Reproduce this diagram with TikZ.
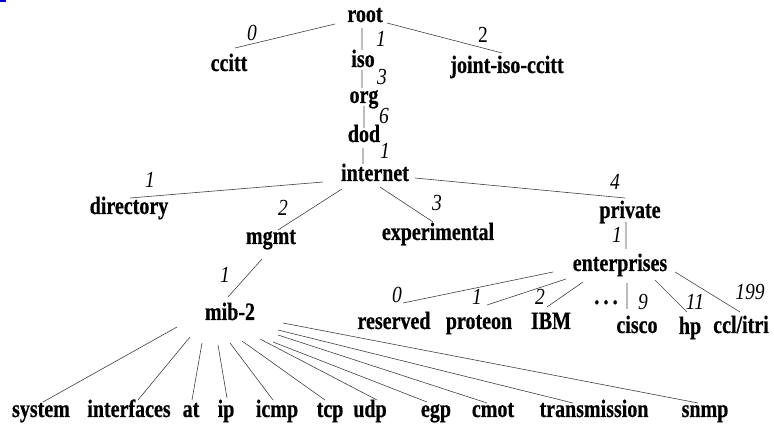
\documentclass[tikz,border=0pt]{standalone}
\usepackage{fontspec}
\setmainfont{Liberation Serif}
\newfontfamily\oidfont{Liberation Serif}[FakeStretch=0.8,BoldFeatures={FakeBold=0.6}]
\newfontfamily\arcfont{Liberation Serif}[FakeStretch=0.85]
\begin{document}
\begin{tikzpicture}[x=1pt,y=-1pt,
  oid/.style={anchor=base,inner sep=0pt,font=\oidfont\fontsize{25}{27}\selectfont\bfseries},
  num/.style={inner sep=0pt,font=\arcfont\fontsize{23}{25}\selectfont\itshape},
  upnum/.style={inner sep=0pt,font=\arcfont\fontsize{23}{25}\selectfont},
  edge/.style={draw=black!75,line width=0.6pt}]
\useasboundingbox (0,0) rectangle (774,435);
\fill[blue!80!black] (0,0) rectangle (6,2.5);

% upper levels
\node[oid] (root) at (365,22) {root};
\node[oid] (ccitt) at (229,71) {ccitt};
\node[oid] (iso) at (363,67) {iso};
\node[oid] (jic) at (507,73) {joint-iso-ccitt};
\node[oid] (org) at (364,103) {org};
\node[oid] (dod) at (364,142) {dod};
\node[oid] (internet) at (375,181) {internet};
\node[oid] (directory) at (129,214) {directory};
\node[oid] (mgmt) at (271,244) {mgmt};
\node[oid] (experimental) at (438,240) {experimental};
\node[oid] (private) at (630,218) {private};
\node[oid] (enterprises) at (620,271) {enterprises};
\node[oid] (mib) at (230,320) {mib-2};

% enterprises children
\node[oid] (reserved) at (394,329) {reserved};
\node[oid] (proteon) at (479,329) {proteon};
\node[oid] (ibm) at (551,329) {IBM};
\node[oid] (dots) at (606,304) {.\,.\,.};
\node[oid] (cisco) at (637,333) {cisco};
\node[oid] (hp) at (690,334) {hp};
\node[oid] (ccl) at (741,333) {ccl/itri};

% mib-2 groups
\node[oid] (system) at (41,417) {system};
\node[oid] (interfaces) at (129,417) {interfaces};
\node[oid] (at) at (191,417) {at};
\node[oid] (ip) at (226,417) {ip};
\node[oid] (icmp) at (277,417) {icmp};
\node[oid] (tcp) at (330,417) {tcp};
\node[oid] (udp) at (370,417) {udp};
\node[oid] (egp) at (436,417) {egp};
\node[oid] (cmot) at (493,417) {cmot};
\node[oid] (transmission) at (594,417) {transmission};
\node[oid] (snmp) at (705,417) {snmp};

% connectors
\path[edge]
  ([shift={(-30,2)}]root.base) -- ([shift={(6,-23)}]ccitt.base)
  ([shift={(-3,6)}]root.base) -- ([shift={(-1,-17)}]iso.base)
  ([shift={(22,1)}]root.base) -- ([shift={(-5,-20)}]jic.base)
  ([shift={(-1,3)}]iso.base) -- ([shift={(-2,-15)}]org.base)
  ([shift={(0,3)}]org.base) -- ([shift={(0,-14)}]dod.base)
  ([shift={(-1,6)}]dod.base) -- ([shift={(-12,-17)}]internet.base)
  ([shift={(-52,1)}]internet.base) -- ([shift={(1,-16)}]directory.base)
  ([shift={(-33,8)}]internet.base) -- ([shift={(7,-14)}]mgmt.base)
  ([shift={(5,6)}]internet.base) -- ([shift={(-5,-18)}]experimental.base)
  ([shift={(40,-3)}]internet.base) -- ([shift={(-5,-20)}]private.base)
  ([shift={(-4,4)}]private.base) -- ([shift={(6,-22)}]enterprises.base)
  ([shift={(-9,15)}]mgmt.base) -- ([shift={(-2,-23)}]mib.base)
  ([shift={(-67,1)}]enterprises.base) -- ([shift={(9,-26)}]reserved.base)
  ([shift={(-54,8)}]enterprises.base) -- ([shift={(8,-24)}]proteon.base)
  ([shift={(-37,11)}]enterprises.base) -- ([shift={(-4,-22)}]ibm.base)
  ([shift={(7,12)}]enterprises.base) -- ([shift={(-10,-24)}]cisco.base)
  ([shift={(35,9)}]enterprises.base) -- ([shift={(-3,-22)}]hp.base)
  ([shift={(55,1)}]enterprises.base) -- ([shift={(-1,-21)}]ccl.base)
  ([shift={(-53,7)}]mib.base) -- ([shift={(2,-15)}]system.base)
  ([shift={(-40,17)}]mib.base) -- ([shift={(9,-17)}]interfaces.base)
  ([shift={(-28,23)}]mib.base) -- ([shift={(1,-17)}]at.base)
  ([shift={(-12,25)}]mib.base) -- ([shift={(1,-19)}]ip.base)
  ([shift={(0,23)}]mib.base) -- ([shift={(-4,-17)}]icmp.base)
  ([shift={(12,21)}]mib.base) -- ([shift={(-5,-17)}]tcp.base)
  ([shift={(30,19)}]mib.base) -- ([shift={(7,-17)}]udp.base)
  ([shift={(43,22)}]mib.base) -- ([shift={(-9,-15)}]egp.base)
  ([shift={(48,15)}]mib.base) -- ([shift={(-6,-14)}]cmot.base)
  ([shift={(48,10)}]mib.base) -- ([shift={(-21,-14)}]transmission.base)
  ([shift={(53,3)}]mib.base) -- ([shift={(-7,-14)}]snmp.base);

% arc numbers
\node[num] (n-ccitt) at (252,33) {0};
\node[num] (n-iso) at (381,39) {1};
\node[upnum] (n-jic) at (483,35) {2};
\node[num] (n-org) at (382,77) {3};
\node[num] (n-dod) at (384,116) {6};
\node[num] (n-internet) at (385,151) {1};
\node[num] (n-directory) at (150,180) {1};
\node[num] (n-mgmt) at (283,208) {2};
\node[num] (n-experimental) at (437,203) {3};
\node[num] (n-private) at (615,182) {4};
\node[num] (n-enterprises) at (617,235) {1};
\node[num] (n-mib) at (225,275) {1};
\node[num] (n-reserved) at (397,295) {0};
\node[num] (n-proteon) at (477,297) {1};
\node[num] (n-ibm) at (540,297) {2};
\node[num] (n-cisco) at (643,302) {9};
\node[num] (n-hp) at (695,302) {11};
\node[num] (n-ccl) at (750,292) {199};
\end{tikzpicture}
\end{document}
